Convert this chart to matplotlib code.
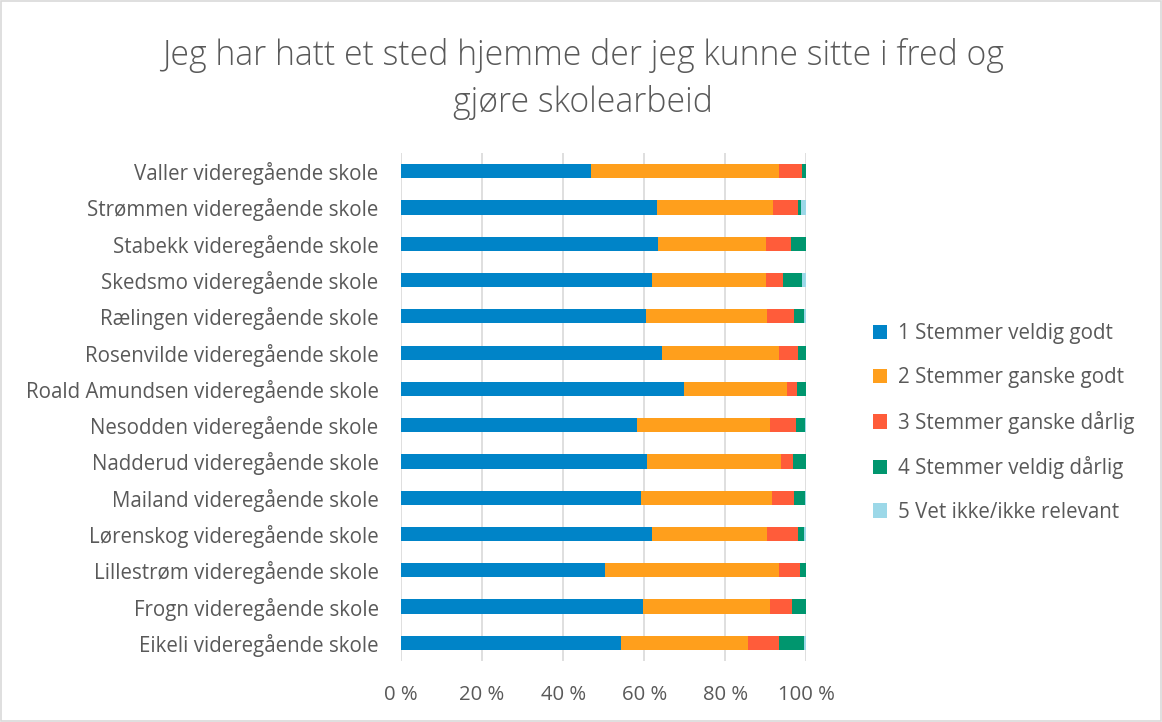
import matplotlib
matplotlib.use("Agg")
import matplotlib.pyplot as plt
from matplotlib.patches import Rectangle
import numpy as np

plt.rcParams['font.family'] = ['Open Sans', 'DejaVu Sans']

schools = [
    "Valler videregående skole",
    "Strømmen videregående skole",
    "Stabekk videregående skole",
    "Skedsmo videregående skole",
    "Rælingen videregående skole",
    "Rosenvilde videregående skole",
    "Roald Amundsen videregående skole",
    "Nesodden videregående skole",
    "Nadderud videregående skole",
    "Mailand videregående skole",
    "Lørenskog videregående skole",
    "Lillestrøm videregående skole",
    "Frogn videregående skole",
    "Eikeli videregående skole",
]

s1 = [46.9, 63.2, 63.4, 61.8, 60.4, 64.4, 69.8, 58.3, 60.7, 59.2, 62.0, 50.4, 59.7, 54.3]
s2 = [46.3, 28.6, 26.7, 28.2, 29.9, 28.9, 25.3, 32.7, 33.0, 32.3, 28.4, 42.8, 31.3, 31.4]
s3 = [5.8, 6.0, 6.2, 4.1, 6.6, 4.6, 2.6, 6.4, 3.0, 5.4, 7.4, 5.1, 5.5, 7.6]
s4 = [1.0, 0.9, 3.5, 4.9, 2.5, 2.1, 2.3, 2.3, 3.3, 2.8, 1.6, 1.7, 3.4, 6.1]
s5 = [0.0, 1.3, 0.2, 1.0, 0.6, 0.0, 0.0, 0.3, 0.0, 0.3, 0.6, 0.0, 0.1, 0.6]

series_names = [
    "1 Stemmer veldig godt",
    "2 Stemmer ganske godt",
    "3 Stemmer ganske dårlig",
    "4 Stemmer veldig dårlig",
    "5 Vet ikke/ikke relevant",
]
colors = ["#0084C8", "#FF9F1C", "#FF5C3A", "#00966E", "#9CD8E8"]
title = "Jeg har hatt et sted hjemme der jeg kunne sitte i fred og\ngjøre skolearbeid"

text_color = "#595959"

fig = plt.figure(figsize=(11.62, 7.22), dpi=100)
ax = fig.add_axes([0.345, 0.0845, 0.349, 0.7035])

data = [s1, s2, s3, s4, s5]
y = np.arange(len(schools))[::-1]
left = np.zeros(len(schools))
handles = []
for vals, name, c in zip(data, series_names, colors):
    v = np.array(vals)
    h = ax.barh(y, v, left=left, height=0.39, color=c, label=name, zorder=3)
    handles.append(h)
    left = left + v

ax.set_xlim(0, 100)
ax.set_ylim(-0.5, len(schools) - 0.5)
ax.set_yticks(y)
ax.set_yticklabels(schools, fontsize=14.8, color=text_color)
ax.set_xticks([0, 20, 40, 60, 80, 100])
ax.set_xticklabels(["0 %", "20 %", "40 %", "60 %", "80 %", "100 %"], fontsize=14.6, color=text_color)
ax.tick_params(axis='both', length=0)
ax.tick_params(axis='y', pad=16)
ax.tick_params(axis='x', pad=17)
ax.grid(axis='x', color="#D9D9D9", linewidth=1.2, zorder=0)
for s in ax.spines.values():
    s.set_visible(False)

fig.text(0.502, 0.891, title, ha='center', va='center', fontsize=24.3,
         color=text_color, fontweight='light', linespacing=1.45)

leg = fig.legend(handles=handles, labels=series_names, loc='center left',
                 bbox_to_anchor=(0.735, 0.414), frameon=False, fontsize=14.8,
                 labelcolor=text_color, handlelength=0.7, handleheight=0.7,
                 handletextpad=0.55, labelspacing=1.1)

fig.patches.append(Rectangle((0.001, 0.001), 0.998, 0.997, transform=fig.transFigure,
                             fill=False, edgecolor="#D9D9D9", linewidth=1.2))

fig.savefig("out.png", dpi=100)
